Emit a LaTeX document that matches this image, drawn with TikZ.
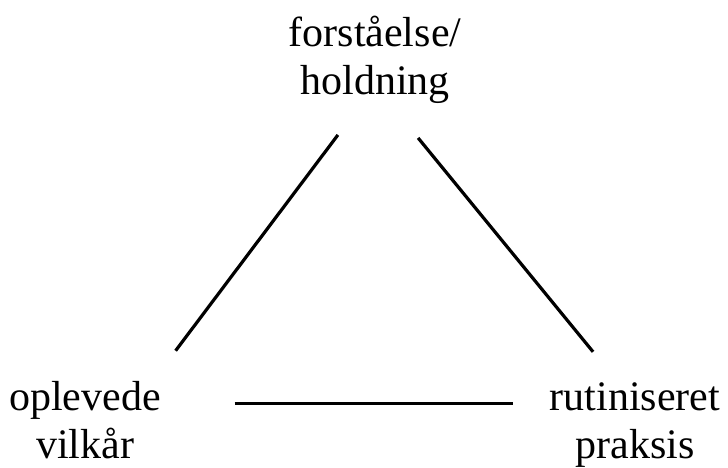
\documentclass[tikz,border=0pt]{standalone}
\usepackage{fontspec}
\setmainfont{Liberation Serif}
\usetikzlibrary{calc}

\begin{document}
\begin{tikzpicture}[
    x=0.25pt, y=-0.25pt,
    corner/.style={inner sep=0pt, align=center, font=\fontsize{10.5}{12}\selectfont},
    link/.style={line width=0.8pt},
]
\useasboundingbox (0,0) rectangle (728,468);

% Corners
\node[corner] (top) at (375, 59.4) {forståelse/\\holdning};
\node[corner] (left) at (85, 420.3) {oplevede\\vilkår};
\node[corner] (right) at (635, 425) {rutiniseret\\praksis};

% Sides
\draw[link] ($(left.north east)+(14,-30)$) -- ($(top.south west)+(50,31)$);
\draw[link] ($(top.south east)+(-44,34)$) -- ($(right.north west)+(44,-30)$);
\coordinate (b1) at ($(left.east)+(73,-17)$);
\coordinate (b2) at ($(right.west)+(-36,0)$);
\draw[link] (b1) -- (b1 -| b2);
\end{tikzpicture}
\end{document}
